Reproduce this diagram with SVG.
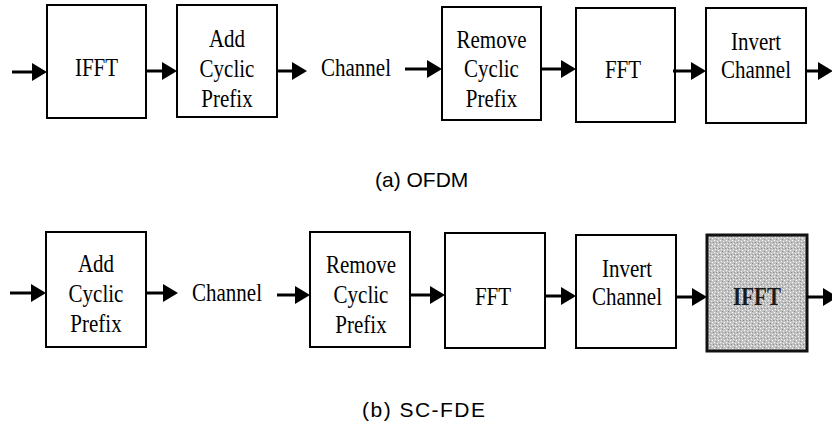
<svg xmlns="http://www.w3.org/2000/svg" width="832" height="427" viewBox="0 0 832 427">
  <style>
    .box { fill: #ffffff; stroke: #000000; stroke-width: 2; }
    .shaded { fill: url(#stipple); stroke: #111111; stroke-width: 3; }
    .lbl { font-family: "Liberation Serif", "Times New Roman", serif; font-size: 21px; fill: #000000; text-anchor: middle; }
    .bold { font-weight: bold; fill: #1a1a1a; }
    .cap { font-family: "Liberation Sans", Arial, sans-serif; font-size: 21px; fill: #000000; }
    .wire { fill: none; stroke: #000000; stroke-width: 3; marker-end: url(#head); }
  </style>
  <defs>
    <marker id="head" markerUnits="userSpaceOnUse" markerWidth="16" markerHeight="18" refX="0" refY="9" orient="auto" overflow="visible">
      <path d="M0,0 L15,9 L0,18 Z" fill="#000000"/>
    </marker>
    <pattern id="stipple" width="6" height="6" patternUnits="userSpaceOnUse">
      <rect width="6" height="6" fill="#c2c2c2"/>
      <rect x="0" y="0" width="1" height="1" fill="#ffffff"/>
      <rect x="3" y="1" width="1" height="1" fill="#eeeeee"/>
      <rect x="1" y="3" width="1" height="1" fill="#f4f4f4"/>
      <rect x="4" y="4" width="1" height="1" fill="#ffffff"/>
      <rect x="2" y="5" width="1" height="1" fill="#8a8a8a"/>
      <rect x="5" y="2" width="1" height="1" fill="#8a8a8a"/>
      <rect x="2" y="2" width="1" height="1" fill="#9a9a9a"/>
    </pattern>
  </defs>

  <!-- (a) OFDM row -->
  <g id="a-ifft">
    <rect class="box" x="47" y="5" width="99" height="113"/>
    <text class="lbl" transform="translate(96.5,76) scale(1,1.2)">IFFT</text>
  </g>
  <g id="a-addcp">
    <rect class="box" x="177" y="5" width="100" height="112"/>
    <text class="lbl" transform="translate(227,47) scale(1,1.2)">Add</text>
    <text class="lbl" transform="translate(227,77) scale(1,1.2)">Cyclic</text>
    <text class="lbl" transform="translate(227,107) scale(1,1.2)">Prefix</text>
  </g>
  <g id="a-channel">
    <text class="lbl" transform="translate(356,76) scale(1,1.2)">Channel</text>
  </g>
  <g id="a-removecp">
    <rect class="box" x="442" y="7" width="99" height="113"/>
    <text class="lbl" transform="translate(491.5,48) scale(1,1.2)">Remove</text>
    <text class="lbl" transform="translate(491.5,77) scale(1,1.2)">Cyclic</text>
    <text class="lbl" transform="translate(491.5,107) scale(1,1.2)">Prefix</text>
  </g>
  <g id="a-fft">
    <rect class="box" x="576" y="8" width="99" height="114"/>
    <text class="lbl" transform="translate(623,78) scale(1,1.2)">FFT</text>
  </g>
  <g id="a-invert">
    <rect class="box" x="706" y="8" width="100" height="115"/>
    <text class="lbl" transform="translate(756,50) scale(1,1.2)">Invert</text>
    <text class="lbl" transform="translate(756,78) scale(1,1.2)">Channel</text>
  </g>
  <g id="caption-a">
    <text class="cap" x="375" y="187">(a) OFDM</text>
  </g>

  <!-- (b) SC-FDE row -->
  <g id="b-addcp">
    <rect class="box" x="46" y="232" width="100" height="115"/>
    <text class="lbl" transform="translate(96,272) scale(1,1.2)">Add</text>
    <text class="lbl" transform="translate(96,302) scale(1,1.2)">Cyclic</text>
    <text class="lbl" transform="translate(96,332) scale(1,1.2)">Prefix</text>
  </g>
  <g id="b-channel">
    <text class="lbl" transform="translate(227,301) scale(1,1.2)">Channel</text>
  </g>
  <g id="b-removecp">
    <rect class="box" x="310" y="232" width="100" height="115"/>
    <text class="lbl" transform="translate(361,273) scale(1,1.2)">Remove</text>
    <text class="lbl" transform="translate(361,303) scale(1,1.2)">Cyclic</text>
    <text class="lbl" transform="translate(361,333) scale(1,1.2)">Prefix</text>
  </g>
  <g id="b-fft">
    <rect class="box" x="445" y="233" width="100" height="115"/>
    <text class="lbl" transform="translate(493,305) scale(1,1.2)">FFT</text>
  </g>
  <g id="b-invert">
    <rect class="box" x="576" y="235" width="100" height="113"/>
    <text class="lbl" transform="translate(627,277) scale(1,1.2)">Invert</text>
    <text class="lbl" transform="translate(627,305) scale(1,1.2)">Channel</text>
  </g>
  <g id="b-ifft">
    <rect class="shaded" x="707" y="235" width="100" height="116"/>
    <text class="lbl bold" transform="translate(757,305) scale(1,1.2)">IFFT</text>
  </g>
  <g id="caption-b">
    <text class="cap" x="362" y="417" textLength="123" lengthAdjust="spacing">(b)  SC-FDE</text>
  </g>

  <!-- connectors -->
  <g id="connectors">
    <path class="wire" d="M12,72 L32,72"/>
    <path class="wire" d="M146,71 L162,71"/>
    <path class="wire" d="M277,71 L292,71"/>
    <path class="wire" d="M405,69 L427,69"/>
    <path class="wire" d="M541,69 L561,69"/>
    <path class="wire" d="M673,71 L691,71"/>
    <path class="wire" d="M806,71 L818,71"/>

    <path class="wire" d="M10,293 L31,293"/>
    <path class="wire" d="M146,293 L163,293"/>
    <path class="wire" d="M277,295 L295,295"/>
    <path class="wire" d="M410,295 L430,295"/>
    <path class="wire" d="M545,296 L561,296"/>
    <path class="wire" d="M676,297 L692,297"/>
    <path class="wire" d="M807,297 L823,297"/>
  </g>
</svg>
